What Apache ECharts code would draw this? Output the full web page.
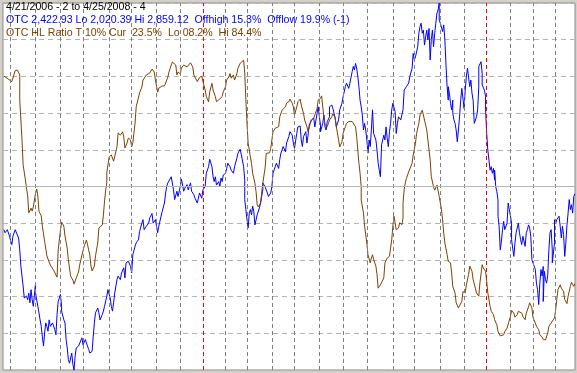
<!DOCTYPE html>
<html>
<head>
<meta charset="utf-8">
<script src="https://cdn.jsdelivr.net/npm/echarts@6/dist/echarts.min.js"></script>
<style>
html,body{margin:0;padding:0;background:#d4d0c8;}
#chart{width:577px;height:373px;}
</style>
</head>
<body>
<div id="chart"></div>
<script>
// Header texts
var headerLine1 = "4/21/2006 - 2 to 4/25/2008 - 4";
var headerLine2 = "OTC 2,422.93 Lo 2,020.39 Hi 2,859.12  Offhigh 15.3%  Offlow 19.9% (-1)";
var headerLine3 = "OTC HL Ratio T 10% Cur  23.5%  Lo 08.2%  Hi 84.4%";

// Trading-day index (0 = 4/21/2006) of each month start; January starts are marked as year starts
var monthStarts = [6, 28, 50, 70, 93, 113, 135, 156, 176, 196, 215, 237, 257, 279, 300, 321, 344, 363, 386, 407, 427, 448, 468, 488];
var yearStarts = [176, 427];
var lastDay = 505;

// OTC index (trading-day index, close)
var blueDays = [0,1,3,4,5,6,7,8,10,11,13,14,15,16,17,18,20,21,22,23,24,25,26,28,28,30,31,32,33,34,35,36,37,38,39,40,41,43,44,45,46,47,48,50,51,51,53,54,55,56,57,58,60,61,62,63,64,66,67,69,70,72,73,75,76,78,79,80,81,83,84,85,87,88,89,91,92,94,95,96,97,98,100,101,103,104,106,107,108,110,111,112,113,114,116,117,119,120,122,123,124,126,127,128,129,131,132,134,135,136,137,139,140,142,143,144,145,148,150,151,153,154,156,157,159,160,162,163,165,166,168,169,171,172,173,175,176,178,179,181,182,184,185,186,187,188,190,191,192,193,194,196,197,198,200,201,203,204,206,207,209,210,212,213,213,214,215,216,217,218,219,220,221,222,224,225,226,227,228,229,229,231,233,234,236,237,238,240,241,243,244,245,246,247,249,250,252,253,255,256,257,259,260,262,263,264,265,267,268,269,270,271,272,274,275,277,278,279,280,280,282,283,284,285,286,288,288,290,291,292,293,294,296,297,299,300,302,303,305,306,308,309,310,311,312,313,314,315,316,317,318,319,320,321,322,323,324,325,326,327,329,330,331,332,333,334,336,337,338,339,340,341,342,343,344,346,347,348,349,350,351,353,354,355,356,358,359,361,362,363,364,366,367,368,369,370,371,372,373,374,375,376,377,378,379,380,381,382,383,384,385,385,386,387,388,389,390,391,392,393,393,394,395,396,397,397,398,399,400,401,402,403,404,405,406,407,408,409,410,411,412,413,414,415,416,418,419,420,420,422,423,423,425,426,426,427,428,429,430,431,432,433,434,434,435,436,437,437,438,439,440,441,442,443,445,446,447,448,449,449,451,452,453,454,455,456,457,458,459,461,462,463,464,465,466,467,468,469,470,471,472,473,474,475,476,477,477,478,479,480,481,482,483,484,485,485,487,487,488,489,491,492,493,494,495,496,497,498,499,500,501,502,503,504,505];
var blueVals = [2341,2334,2341,2345,2326,2315,2307,2326,2341,2337,2322,2295,2257,2235,2212,2185,2189,2181,2196,2174,2204,2181,2166,2219,2196,2166,2151,2135,2120,2097,2075,2105,2128,2120,2109,2135,2120,2128,2132,2113,2101,2147,2177,2193,2166,2155,2135,2128,2090,2071,2044,2036,2059,2033,2020,2052,2071,2075,2071,2094,2078,2090,2082,2067,2059,2063,2097,2128,2151,2162,2151,2135,2147,2155,2166,2189,2204,2185,2166,2155,2174,2196,2227,2235,2227,2242,2254,2231,2265,2269,2269,2257,2242,2284,2303,2311,2318,2337,2356,2364,2341,2349,2345,2356,2368,2378,2356,2364,2349,2334,2349,2372,2383,2402,2425,2440,2448,2462,2432,2410,2429,2417,2440,2457,2429,2436,2444,2432,2448,2429,2421,2413,2402,2413,2425,2413,2432,2440,2470,2485,2502,2485,2462,2451,2462,2443,2451,2439,2459,2451,2466,2470,2481,2493,2485,2477,2470,2485,2504,2516,2525,2512,2485,2455,2410,2387,2364,2345,2379,2387,2375,2395,2383,2352,2375,2379,2391,2402,2417,2432,2448,2439,2425,2417,2425,2440,2470,2485,2493,2481,2502,2516,2523,2531,2519,2539,2554,2565,2557,2539,2527,2561,2576,2578,2546,2531,2554,2565,2539,2557,2580,2584,2592,2596,2576,2607,2622,2599,2580,2565,2584,2603,2576,2569,2588,2599,2622,2626,2618,2607,2596,2576,2592,2615,2630,2645,2668,2676,2664,2676,2702,2714,2706,2721,2710,2691,2668,2637,2622,2603,2569,2584,2569,2546,2516,2546,2531,2569,2615,2561,2546,2523,2493,2477,2462,2535,2557,2546,2576,2550,2531,2565,2584,2615,2630,2611,2561,2584,2599,2603,2592,2615,2660,2664,2668,2676,2691,2710,2744,2729,2736,2759,2790,2805,2813,2790,2797,2763,2782,2797,2775,2801,2729,2775,2797,2759,2790,2813,2836,2843,2859,2820,2813,2809,2794,2809,2775,2717,2668,2637,2668,2653,2630,2615,2637,2607,2592,2584,2569,2542,2569,2599,2637,2664,2660,2618,2660,2691,2710,2714,2668,2683,2653,2637,2584,2599,2615,2668,2714,2725,2698,2672,2660,2645,2615,2561,2523,2500,2477,2485,2470,2481,2455,2477,2439,2428,2409,2372,2349,2295,2315,2341,2360,2341,2356,2402,2387,2372,2356,2318,2280,2311,2334,2337,2356,2334,2318,2307,2326,2303,2334,2341,2352,2345,2326,2272,2265,2269,2250,2219,2204,2170,2219,2250,2235,2257,2177,2246,2227,2219,2238,2295,2334,2341,2295,2265,2311,2364,2356,2364,2372,2349,2322,2349,2330,2280,2311,2352,2379,2410,2387,2398,2379,2417,2423];

// OTC HL ratio, percent (trading-day index, value)
var brownDays = [0,7,10,12,14,14,16,17,19,20,21,22,24,25,26,27,28,29,30,31,33,34,36,38,41,44,45,47,48,50,51,53,54,56,57,59,61,62,64,66,67,69,71,73,74,76,77,78,80,81,83,84,87,88,89,90,91,91,93,95,97,98,100,101,103,105,106,107,109,110,112,113,114,115,116,117,120,122,123,126,129,131,133,134,136,137,140,142,143,145,146,148,149,150,152,153,154,156,157,159,160,162,163,165,167,168,171,172,173,175,176,178,179,181,182,184,185,187,188,190,191,193,194,196,197,199,200,201,203,204,206,207,209,210,212,213,214,215,216,218,219,220,222,223,224,225,226,227,228,229,231,232,235,236,237,238,240,241,243,244,246,247,249,250,252,253,255,256,257,259,260,262,263,265,266,268,269,271,272,274,275,277,278,280,281,282,283,284,286,287,288,290,291,293,294,296,297,299,300,302,303,305,306,308,309,311,312,313,314,315,316,316,318,319,321,322,324,325,326,327,329,330,331,333,334,336,337,339,340,341,343,344,345,346,347,349,350,352,353,353,354,355,356,358,359,361,362,364,365,367,368,370,371,372,374,375,377,378,380,381,383,384,385,387,388,389,390,392,393,395,396,397,399,400,402,403,405,406,408,409,411,412,414,415,417,418,420,421,423,424,426,427,428,430,431,433,434,436,437,439,440,442,443,445,446,448,449,451,452,454,455,456,458,459,461,462,464,465,467,468,470,471,473,474,476,477,479,480,481,482,484,485,487,488,489,490,492,493,495,496,498,499,501,502,504,505];
var brownVals = [80.1,78.6,81.6,81.7,80.4,73.6,62.7,55.9,51.8,49.6,47.4,42.8,44.1,43.3,44.4,43.9,48.2,49.3,47.4,43.3,42,39.2,35.1,31.1,28.6,27.2,26.7,25.3,32.7,38.1,40.3,39.2,36.5,33.2,30,25.6,24.5,23.4,25.1,26.7,28.6,31.3,33.8,35.4,34.1,31.3,28.3,27,28.3,31.1,34.6,38.7,39.5,42.2,46,49,51,53.7,58,58.6,56.9,56.7,60.8,64.6,64,64.9,63.5,60.5,61.9,63.2,62.7,60.8,61.9,64.6,67.3,71.7,75.5,77.1,79,80.4,80.9,82,81.2,79,75.7,76.8,77.4,77.4,77.7,79.8,81.2,83.1,83.9,84.4,83.1,80.4,81.2,80.7,82.3,83.1,83.6,82.6,83.1,83.7,82.6,80.4,78.6,79,79.7,80.1,78.6,76.3,74.5,73.1,75.8,78.1,76.3,74.5,73.1,73.6,73.1,74.5,75.8,77.2,79,79.9,80.8,79.5,80.4,79,80.7,82.2,83.6,84,84.4,80.9,73.6,67.3,61.8,58.1,56.3,53.6,50.9,48.6,45,44.4,43.9,45.5,48.2,51,55,59,59.2,60.4,62.7,64.9,65.9,66.3,66.3,69,70.8,71.3,71.7,72.7,73.1,73.8,72.7,71.7,69.5,71.7,73.1,73.8,72.2,69.9,68.1,66.3,64.9,67.2,68.1,68.6,69.5,71.3,73.6,74,74.7,71.7,69,66.8,66.3,67.2,68.1,69,69.9,68.6,66.3,62.7,60.8,62.2,64.5,66.3,67.2,67.7,68.1,67.7,68.1,66.3,63.6,59.9,56.3,53.6,49.9,46.3,42.8,39.2,34.6,31.4,29.2,30.5,31.4,30.1,28.3,26,22.3,23.2,23.2,25.1,29.2,30.5,30.1,31,35.5,39.2,41.9,40.1,38.2,38.7,40.1,39.6,41.4,45.5,49.1,51,52.2,54,54.5,56.3,58.6,61.8,64.5,67.2,69.5,70.8,70.4,68.1,65.4,62.7,57.2,52.7,49.9,49,50.4,50.9,47.3,43.7,40.9,37.3,34.6,31.4,29.6,29.2,26.4,22.8,21,18.3,16.9,16.4,18.7,21.4,21,23.2,26,28.3,26.9,24.6,22.3,21,20.1,23.7,28.7,27.8,26.9,24.2,21,17.4,16,15.1,13.7,12.3,10.5,9.3,9,9.6,10.5,11.4,11.9,14.6,16.2,15.5,14.4,15.1,16,16.4,15.5,14.6,13.7,15.5,17.2,18.3,16.9,14.2,12.8,11.9,11,9.6,9,8.3,8.2,8.4,10.1,11.9,12.8,12.8,14.2,16.4,19.2,21.9,23.2,22.3,21.4,19.2,18.1,20.1,22.8,23.9,22.8,23.5];

var blueLo = 2020.39, blueHi = 2859.12;

function pairs(xs, ys) { return xs.map(function (x, k) { return [x, ys[k]]; }); }

var monthLineData = monthStarts.map(function (d) {
  var isYear = yearStarts.indexOf(d) >= 0;
  return { xAxis: d, lineStyle: { color: isYear ? '#ff0000' : '#808080', type: [4, 3], width: 1 } };
});

var chart = echarts.init(document.getElementById('chart'), null, { renderer: 'canvas' });
var font = '"Liberation Sans", Arial, sans-serif';
chart.setOption({
  animation: false,
  backgroundColor: '#d4d0c8',
  grid: { left: 3, right: 2, top: 3, bottom: 3, show: true, backgroundColor: '#ffffff', borderColor: '#8c8c8c', borderWidth: 1 },
  xAxis: { type: 'value', min: -0.81, max: 505.1, show: false },
  yAxis: [
    { type: 'value', min: 0, max: 10, interval: 1, axisLine: { show: false }, axisTick: { show: false }, axisLabel: { show: false },
      splitLine: { show: true, lineStyle: { color: '#b4b4b4', type: [5, 4], width: 1 } } },
    { type: 'value', min: 0, max: 100, show: false },
    { type: 'value', min: blueLo, max: blueHi, show: false }
  ],
  series: [
    { type: 'line', yAxisIndex: 0, data: [[0, 5]], showSymbol: false, symbol: 'none', lineStyle: { opacity: 0 }, z: 1, silent: true,
      markLine: { silent: true, symbol: 'none', label: { show: false }, animation: false,
        data: monthLineData.concat([{ yAxis: 5, lineStyle: { color: '#b4b4b4', type: 'solid', width: 1 } }]) } },
    { name: 'OTC', type: 'line', yAxisIndex: 2, data: pairs(blueDays, blueVals), symbol: 'none', clip: true,
      lineStyle: { color: '#0000ff', width: 1 }, z: 3 },
    { name: 'OTC HL Ratio', type: 'line', yAxisIndex: 1, data: pairs(brownDays, brownVals), symbol: 'none', clip: true,
      lineStyle: { color: '#804000', width: 1 }, z: 4 }
  ],
  graphic: [
    { type: 'text', left: 6, top: 2, z: 10, style: { text: headerLine1, fill: '#000000', font: '10.6px ' + font } },
    { type: 'text', left: 6, top: 15, z: 10, style: { text: headerLine2, fill: '#0000ff', font: '10.6px ' + font } },
    { type: 'text', left: 6, top: 27.5, z: 10, style: { text: headerLine3, fill: '#804000', font: '10.6px ' + font } }
  ]
});
</script>
</body>
</html>
